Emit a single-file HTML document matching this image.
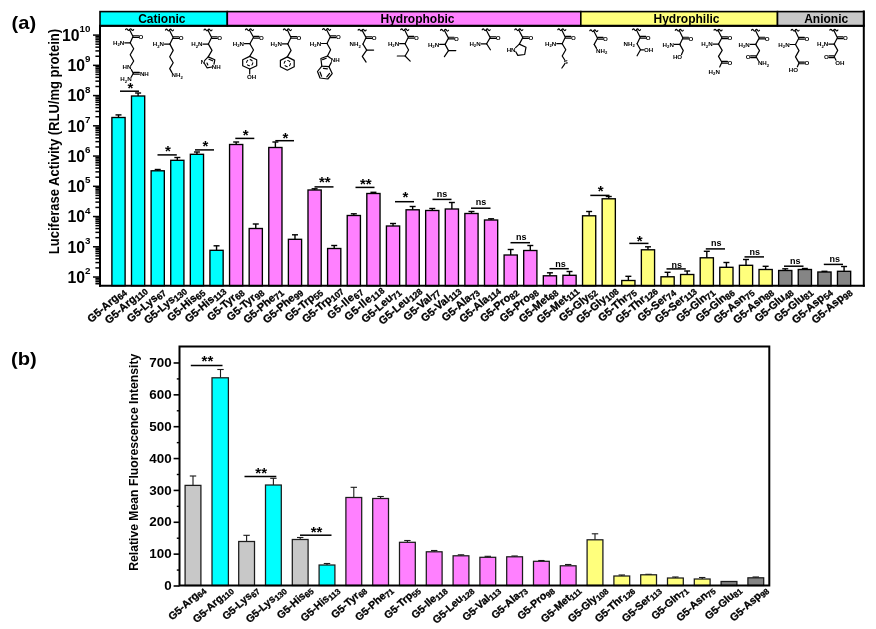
<!DOCTYPE html>
<html lang="en">
<head>
<meta charset="utf-8">
<title>Figure</title>
<style>
html,body{margin:0;padding:0;background:#fff;}
svg{display:block;will-change:transform;}
svg text.xl{stroke:#000;stroke-width:0.3px;}
svg text{font-family:"Liberation Sans",sans-serif;font-weight:bold;fill:#000;}
</style>
</head>
<body>
<svg width="876" height="629" viewBox="0 0 876 629">
<defs><filter id="soft" x="0" y="0" width="876" height="629" filterUnits="userSpaceOnUse"><feGaussianBlur stdDeviation="0.3"/></filter></defs>
<rect x="0" y="0" width="876" height="629" fill="#fff"/>
<g filter="url(#soft)">
<g stroke="#000" fill="none">
<rect x="100" y="11.6" width="127.3" height="14.4" fill="#00FFFF" stroke-width="1.6"/>
<rect x="227.3" y="11.6" width="353.5" height="14.4" fill="#FF80FF" stroke-width="1.6"/>
<rect x="580.8" y="11.6" width="196.7" height="14.4" fill="#FFFF7C" stroke-width="1.6"/>
<rect x="777.5" y="11.6" width="86.3" height="14.4" fill="#C8C8C8" stroke-width="1.6"/>
</g>
<text x="161.8" y="23" font-size="12" text-anchor="middle">Cationic</text>
<text x="417.5" y="23" font-size="12" text-anchor="middle">Hydrophobic</text>
<text x="686.5" y="23" font-size="12" text-anchor="middle">Hydrophilic</text>
<text x="826.2" y="23.2" font-size="12" text-anchor="middle">Anionic</text>
<g stroke="#000" stroke-width="1.5">
<line x1="118.5" y1="117.5" x2="118.5" y2="114.9" stroke-width="1.4"/>
<line x1="115.5" y1="114.9" x2="121.5" y2="114.9" stroke-width="1.4"/>
<rect x="111.9" y="117.5" width="13.2" height="168.3" fill="#00FFFF" stroke-width="1.35"/>
<line x1="138.11" y1="96" x2="138.11" y2="93" stroke-width="1.4"/>
<line x1="135.11" y1="93" x2="141.11" y2="93" stroke-width="1.4"/>
<rect x="131.51" y="96" width="13.2" height="189.8" fill="#00FFFF" stroke-width="1.35"/>
<line x1="157.72" y1="170.8" x2="157.72" y2="169.5" stroke-width="1.4"/>
<line x1="154.72" y1="169.5" x2="160.72" y2="169.5" stroke-width="1.4"/>
<rect x="151.12" y="170.8" width="13.2" height="115" fill="#00FFFF" stroke-width="1.35"/>
<line x1="177.33" y1="160.3" x2="177.33" y2="157.5" stroke-width="1.4"/>
<line x1="174.33" y1="157.5" x2="180.33" y2="157.5" stroke-width="1.4"/>
<rect x="170.73" y="160.3" width="13.2" height="125.5" fill="#00FFFF" stroke-width="1.35"/>
<line x1="196.94" y1="154.3" x2="196.94" y2="152" stroke-width="1.4"/>
<line x1="193.94" y1="152" x2="199.94" y2="152" stroke-width="1.4"/>
<rect x="190.34" y="154.3" width="13.2" height="131.5" fill="#00FFFF" stroke-width="1.35"/>
<line x1="216.55" y1="250.3" x2="216.55" y2="245.8" stroke-width="1.4"/>
<line x1="213.55" y1="245.8" x2="219.55" y2="245.8" stroke-width="1.4"/>
<rect x="209.95" y="250.3" width="13.2" height="35.5" fill="#00FFFF" stroke-width="1.35"/>
<line x1="236.16" y1="144.5" x2="236.16" y2="142" stroke-width="1.4"/>
<line x1="233.16" y1="142" x2="239.16" y2="142" stroke-width="1.4"/>
<rect x="229.56" y="144.5" width="13.2" height="141.3" fill="#FF80FF" stroke-width="1.35"/>
<line x1="255.77" y1="228.5" x2="255.77" y2="224" stroke-width="1.4"/>
<line x1="252.77" y1="224" x2="258.77" y2="224" stroke-width="1.4"/>
<rect x="249.17" y="228.5" width="13.2" height="57.3" fill="#FF80FF" stroke-width="1.35"/>
<line x1="275.38" y1="147.5" x2="275.38" y2="142" stroke-width="1.4"/>
<line x1="272.38" y1="142" x2="278.38" y2="142" stroke-width="1.4"/>
<rect x="268.78" y="147.5" width="13.2" height="138.3" fill="#FF80FF" stroke-width="1.35"/>
<line x1="294.99" y1="239.3" x2="294.99" y2="234.8" stroke-width="1.4"/>
<line x1="291.99" y1="234.8" x2="297.99" y2="234.8" stroke-width="1.4"/>
<rect x="288.39" y="239.3" width="13.2" height="46.5" fill="#FF80FF" stroke-width="1.35"/>
<line x1="314.6" y1="190" x2="314.6" y2="188.8" stroke-width="1.4"/>
<line x1="311.6" y1="188.8" x2="317.6" y2="188.8" stroke-width="1.4"/>
<rect x="308" y="190" width="13.2" height="95.8" fill="#FF80FF" stroke-width="1.35"/>
<line x1="334.21" y1="248.5" x2="334.21" y2="245.5" stroke-width="1.4"/>
<line x1="331.21" y1="245.5" x2="337.21" y2="245.5" stroke-width="1.4"/>
<rect x="327.61" y="248.5" width="13.2" height="37.3" fill="#FF80FF" stroke-width="1.35"/>
<line x1="353.82" y1="215.5" x2="353.82" y2="213.8" stroke-width="1.4"/>
<line x1="350.82" y1="213.8" x2="356.82" y2="213.8" stroke-width="1.4"/>
<rect x="347.22" y="215.5" width="13.2" height="70.3" fill="#FF80FF" stroke-width="1.35"/>
<line x1="373.43" y1="193.5" x2="373.43" y2="192.3" stroke-width="1.4"/>
<line x1="370.43" y1="192.3" x2="376.43" y2="192.3" stroke-width="1.4"/>
<rect x="366.83" y="193.5" width="13.2" height="92.3" fill="#FF80FF" stroke-width="1.35"/>
<line x1="393.04" y1="226" x2="393.04" y2="223.5" stroke-width="1.4"/>
<line x1="390.04" y1="223.5" x2="396.04" y2="223.5" stroke-width="1.4"/>
<rect x="386.44" y="226" width="13.2" height="59.8" fill="#FF80FF" stroke-width="1.35"/>
<line x1="412.65" y1="209.8" x2="412.65" y2="206.5" stroke-width="1.4"/>
<line x1="409.65" y1="206.5" x2="415.65" y2="206.5" stroke-width="1.4"/>
<rect x="406.05" y="209.8" width="13.2" height="76" fill="#FF80FF" stroke-width="1.35"/>
<line x1="432.26" y1="210.5" x2="432.26" y2="208.5" stroke-width="1.4"/>
<line x1="429.26" y1="208.5" x2="435.26" y2="208.5" stroke-width="1.4"/>
<rect x="425.66" y="210.5" width="13.2" height="75.3" fill="#FF80FF" stroke-width="1.35"/>
<line x1="451.87" y1="209" x2="451.87" y2="202.5" stroke-width="1.4"/>
<line x1="448.87" y1="202.5" x2="454.87" y2="202.5" stroke-width="1.4"/>
<rect x="445.27" y="209" width="13.2" height="76.8" fill="#FF80FF" stroke-width="1.35"/>
<line x1="471.48" y1="213.5" x2="471.48" y2="211.5" stroke-width="1.4"/>
<line x1="468.48" y1="211.5" x2="474.48" y2="211.5" stroke-width="1.4"/>
<rect x="464.88" y="213.5" width="13.2" height="72.3" fill="#FF80FF" stroke-width="1.35"/>
<line x1="491.09" y1="220" x2="491.09" y2="218.8" stroke-width="1.4"/>
<line x1="488.09" y1="218.8" x2="494.09" y2="218.8" stroke-width="1.4"/>
<rect x="484.49" y="220" width="13.2" height="65.8" fill="#FF80FF" stroke-width="1.35"/>
<line x1="510.7" y1="255" x2="510.7" y2="249.5" stroke-width="1.4"/>
<line x1="507.7" y1="249.5" x2="513.7" y2="249.5" stroke-width="1.4"/>
<rect x="504.1" y="255" width="13.2" height="30.8" fill="#FF80FF" stroke-width="1.35"/>
<line x1="530.31" y1="250.5" x2="530.31" y2="245.5" stroke-width="1.4"/>
<line x1="527.31" y1="245.5" x2="533.31" y2="245.5" stroke-width="1.4"/>
<rect x="523.71" y="250.5" width="13.2" height="35.3" fill="#FF80FF" stroke-width="1.35"/>
<line x1="549.92" y1="275.8" x2="549.92" y2="272.8" stroke-width="1.4"/>
<line x1="546.92" y1="272.8" x2="552.92" y2="272.8" stroke-width="1.4"/>
<rect x="543.32" y="275.8" width="13.2" height="10" fill="#FF80FF" stroke-width="1.35"/>
<line x1="569.53" y1="275.3" x2="569.53" y2="271.5" stroke-width="1.4"/>
<line x1="566.53" y1="271.5" x2="572.53" y2="271.5" stroke-width="1.4"/>
<rect x="562.93" y="275.3" width="13.2" height="10.5" fill="#FF80FF" stroke-width="1.35"/>
<line x1="589.14" y1="215.8" x2="589.14" y2="211.5" stroke-width="1.4"/>
<line x1="586.14" y1="211.5" x2="592.14" y2="211.5" stroke-width="1.4"/>
<rect x="582.54" y="215.8" width="13.2" height="70" fill="#FFFF7C" stroke-width="1.35"/>
<line x1="608.75" y1="198.8" x2="608.75" y2="196.5" stroke-width="1.4"/>
<line x1="605.75" y1="196.5" x2="611.75" y2="196.5" stroke-width="1.4"/>
<rect x="602.15" y="198.8" width="13.2" height="87" fill="#FFFF7C" stroke-width="1.35"/>
<line x1="628.36" y1="280.5" x2="628.36" y2="276.3" stroke-width="1.4"/>
<line x1="625.36" y1="276.3" x2="631.36" y2="276.3" stroke-width="1.4"/>
<rect x="621.76" y="280.5" width="13.2" height="5.3" fill="#FFFF7C" stroke-width="1.35"/>
<line x1="647.97" y1="249.8" x2="647.97" y2="246.8" stroke-width="1.4"/>
<line x1="644.97" y1="246.8" x2="650.97" y2="246.8" stroke-width="1.4"/>
<rect x="641.37" y="249.8" width="13.2" height="36" fill="#FFFF7C" stroke-width="1.35"/>
<line x1="667.58" y1="276.8" x2="667.58" y2="272.3" stroke-width="1.4"/>
<line x1="664.58" y1="272.3" x2="670.58" y2="272.3" stroke-width="1.4"/>
<rect x="660.98" y="276.8" width="13.2" height="9" fill="#FFFF7C" stroke-width="1.35"/>
<line x1="687.19" y1="274.5" x2="687.19" y2="271" stroke-width="1.4"/>
<line x1="684.19" y1="271" x2="690.19" y2="271" stroke-width="1.4"/>
<rect x="680.59" y="274.5" width="13.2" height="11.3" fill="#FFFF7C" stroke-width="1.35"/>
<line x1="706.8" y1="257.8" x2="706.8" y2="251.3" stroke-width="1.4"/>
<line x1="703.8" y1="251.3" x2="709.8" y2="251.3" stroke-width="1.4"/>
<rect x="700.2" y="257.8" width="13.2" height="28" fill="#FFFF7C" stroke-width="1.35"/>
<line x1="726.41" y1="267.3" x2="726.41" y2="262.5" stroke-width="1.4"/>
<line x1="723.41" y1="262.5" x2="729.41" y2="262.5" stroke-width="1.4"/>
<rect x="719.81" y="267.3" width="13.2" height="18.5" fill="#FFFF7C" stroke-width="1.35"/>
<line x1="746.02" y1="265.3" x2="746.02" y2="259.5" stroke-width="1.4"/>
<line x1="743.02" y1="259.5" x2="749.02" y2="259.5" stroke-width="1.4"/>
<rect x="739.42" y="265.3" width="13.2" height="20.5" fill="#FFFF7C" stroke-width="1.35"/>
<line x1="765.63" y1="269.5" x2="765.63" y2="266.3" stroke-width="1.4"/>
<line x1="762.63" y1="266.3" x2="768.63" y2="266.3" stroke-width="1.4"/>
<rect x="759.03" y="269.5" width="13.2" height="16.3" fill="#FFFF7C" stroke-width="1.35"/>
<line x1="785.24" y1="270.5" x2="785.24" y2="268.8" stroke-width="1.4"/>
<line x1="782.24" y1="268.8" x2="788.24" y2="268.8" stroke-width="1.4"/>
<rect x="778.64" y="270.5" width="13.2" height="15.3" fill="#858585" stroke-width="1.35"/>
<line x1="804.85" y1="269.5" x2="804.85" y2="268.5" stroke-width="1.4"/>
<line x1="801.85" y1="268.5" x2="807.85" y2="268.5" stroke-width="1.4"/>
<rect x="798.25" y="269.5" width="13.2" height="16.3" fill="#858585" stroke-width="1.35"/>
<line x1="824.46" y1="272" x2="824.46" y2="271.3" stroke-width="1.4"/>
<line x1="821.46" y1="271.3" x2="827.46" y2="271.3" stroke-width="1.4"/>
<rect x="817.86" y="272" width="13.2" height="13.8" fill="#858585" stroke-width="1.35"/>
<line x1="844.07" y1="271.3" x2="844.07" y2="266.5" stroke-width="1.4"/>
<line x1="841.07" y1="266.5" x2="847.07" y2="266.5" stroke-width="1.4"/>
<rect x="837.47" y="271.3" width="13.2" height="14.5" fill="#858585" stroke-width="1.35"/>
</g>
<g stroke="#000" stroke-width="2" fill="none" stroke-linecap="square">
<line x1="100" y1="26" x2="100" y2="285.8" stroke-width="2"/>
<line x1="100" y1="285.8" x2="863.8" y2="285.8" stroke-width="2"/>
<line x1="863.8" y1="11.6" x2="863.8" y2="285.8" stroke-width="2"/>
<line x1="100" y1="25.8" x2="863.8" y2="25.8" stroke-width="2"/>
</g>
<g stroke="#000" stroke-width="1.7">
<line x1="95.4" y1="283.73" x2="100" y2="283.73" stroke-width="1.5"/>
<line x1="95.4" y1="281.7" x2="100" y2="281.7" stroke-width="1.5"/>
<line x1="95.4" y1="279.95" x2="100" y2="279.95" stroke-width="1.5"/>
<line x1="95.4" y1="278.4" x2="100" y2="278.4" stroke-width="1.5"/>
<line x1="93" y1="277.02" x2="100" y2="277.02" stroke-width="1.5"/>
<line x1="95.4" y1="267.92" x2="100" y2="267.92" stroke-width="1.5"/>
<line x1="95.4" y1="262.59" x2="100" y2="262.59" stroke-width="1.5"/>
<line x1="95.4" y1="258.81" x2="100" y2="258.81" stroke-width="1.5"/>
<line x1="95.4" y1="255.88" x2="100" y2="255.88" stroke-width="1.5"/>
<line x1="95.4" y1="253.49" x2="100" y2="253.49" stroke-width="1.5"/>
<line x1="95.4" y1="251.46" x2="100" y2="251.46" stroke-width="1.5"/>
<line x1="95.4" y1="249.71" x2="100" y2="249.71" stroke-width="1.5"/>
<line x1="95.4" y1="248.16" x2="100" y2="248.16" stroke-width="1.5"/>
<line x1="93" y1="246.78" x2="100" y2="246.78" stroke-width="1.5"/>
<line x1="95.4" y1="237.68" x2="100" y2="237.68" stroke-width="1.5"/>
<line x1="95.4" y1="232.35" x2="100" y2="232.35" stroke-width="1.5"/>
<line x1="95.4" y1="228.57" x2="100" y2="228.57" stroke-width="1.5"/>
<line x1="95.4" y1="225.64" x2="100" y2="225.64" stroke-width="1.5"/>
<line x1="95.4" y1="223.25" x2="100" y2="223.25" stroke-width="1.5"/>
<line x1="95.4" y1="221.22" x2="100" y2="221.22" stroke-width="1.5"/>
<line x1="95.4" y1="219.47" x2="100" y2="219.47" stroke-width="1.5"/>
<line x1="95.4" y1="217.92" x2="100" y2="217.92" stroke-width="1.5"/>
<line x1="93" y1="216.54" x2="100" y2="216.54" stroke-width="1.5"/>
<line x1="95.4" y1="207.44" x2="100" y2="207.44" stroke-width="1.5"/>
<line x1="95.4" y1="202.11" x2="100" y2="202.11" stroke-width="1.5"/>
<line x1="95.4" y1="198.33" x2="100" y2="198.33" stroke-width="1.5"/>
<line x1="95.4" y1="195.4" x2="100" y2="195.4" stroke-width="1.5"/>
<line x1="95.4" y1="193.01" x2="100" y2="193.01" stroke-width="1.5"/>
<line x1="95.4" y1="190.98" x2="100" y2="190.98" stroke-width="1.5"/>
<line x1="95.4" y1="189.23" x2="100" y2="189.23" stroke-width="1.5"/>
<line x1="95.4" y1="187.68" x2="100" y2="187.68" stroke-width="1.5"/>
<line x1="93" y1="186.3" x2="100" y2="186.3" stroke-width="1.5"/>
<line x1="95.4" y1="177.2" x2="100" y2="177.2" stroke-width="1.5"/>
<line x1="95.4" y1="171.87" x2="100" y2="171.87" stroke-width="1.5"/>
<line x1="95.4" y1="168.09" x2="100" y2="168.09" stroke-width="1.5"/>
<line x1="95.4" y1="165.16" x2="100" y2="165.16" stroke-width="1.5"/>
<line x1="95.4" y1="162.77" x2="100" y2="162.77" stroke-width="1.5"/>
<line x1="95.4" y1="160.74" x2="100" y2="160.74" stroke-width="1.5"/>
<line x1="95.4" y1="158.99" x2="100" y2="158.99" stroke-width="1.5"/>
<line x1="95.4" y1="157.44" x2="100" y2="157.44" stroke-width="1.5"/>
<line x1="93" y1="156.06" x2="100" y2="156.06" stroke-width="1.5"/>
<line x1="95.4" y1="146.96" x2="100" y2="146.96" stroke-width="1.5"/>
<line x1="95.4" y1="141.63" x2="100" y2="141.63" stroke-width="1.5"/>
<line x1="95.4" y1="137.85" x2="100" y2="137.85" stroke-width="1.5"/>
<line x1="95.4" y1="134.92" x2="100" y2="134.92" stroke-width="1.5"/>
<line x1="95.4" y1="132.53" x2="100" y2="132.53" stroke-width="1.5"/>
<line x1="95.4" y1="130.5" x2="100" y2="130.5" stroke-width="1.5"/>
<line x1="95.4" y1="128.75" x2="100" y2="128.75" stroke-width="1.5"/>
<line x1="95.4" y1="127.2" x2="100" y2="127.2" stroke-width="1.5"/>
<line x1="93" y1="125.82" x2="100" y2="125.82" stroke-width="1.5"/>
<line x1="95.4" y1="116.72" x2="100" y2="116.72" stroke-width="1.5"/>
<line x1="95.4" y1="111.39" x2="100" y2="111.39" stroke-width="1.5"/>
<line x1="95.4" y1="107.61" x2="100" y2="107.61" stroke-width="1.5"/>
<line x1="95.4" y1="104.68" x2="100" y2="104.68" stroke-width="1.5"/>
<line x1="95.4" y1="102.29" x2="100" y2="102.29" stroke-width="1.5"/>
<line x1="95.4" y1="100.26" x2="100" y2="100.26" stroke-width="1.5"/>
<line x1="95.4" y1="98.51" x2="100" y2="98.51" stroke-width="1.5"/>
<line x1="95.4" y1="96.96" x2="100" y2="96.96" stroke-width="1.5"/>
<line x1="93" y1="95.58" x2="100" y2="95.58" stroke-width="1.5"/>
<line x1="95.4" y1="86.48" x2="100" y2="86.48" stroke-width="1.5"/>
<line x1="95.4" y1="81.15" x2="100" y2="81.15" stroke-width="1.5"/>
<line x1="95.4" y1="77.37" x2="100" y2="77.37" stroke-width="1.5"/>
<line x1="95.4" y1="74.44" x2="100" y2="74.44" stroke-width="1.5"/>
<line x1="95.4" y1="72.05" x2="100" y2="72.05" stroke-width="1.5"/>
<line x1="95.4" y1="70.02" x2="100" y2="70.02" stroke-width="1.5"/>
<line x1="95.4" y1="68.27" x2="100" y2="68.27" stroke-width="1.5"/>
<line x1="95.4" y1="66.72" x2="100" y2="66.72" stroke-width="1.5"/>
<line x1="93" y1="65.34" x2="100" y2="65.34" stroke-width="1.5"/>
<line x1="95.4" y1="56.24" x2="100" y2="56.24" stroke-width="1.5"/>
<line x1="95.4" y1="50.91" x2="100" y2="50.91" stroke-width="1.5"/>
<line x1="95.4" y1="47.13" x2="100" y2="47.13" stroke-width="1.5"/>
<line x1="95.4" y1="44.2" x2="100" y2="44.2" stroke-width="1.5"/>
<line x1="95.4" y1="41.81" x2="100" y2="41.81" stroke-width="1.5"/>
<line x1="95.4" y1="39.78" x2="100" y2="39.78" stroke-width="1.5"/>
<line x1="95.4" y1="38.03" x2="100" y2="38.03" stroke-width="1.5"/>
<line x1="95.4" y1="36.48" x2="100" y2="36.48" stroke-width="1.5"/>
<line x1="93" y1="35.1" x2="100" y2="35.1" stroke-width="1.5"/>
</g>
<text x="90.5" y="282.82" font-size="15.8" text-anchor="end">10<tspan font-size="9.8" dy="-8.8">2</tspan></text>
<text x="90.5" y="252.58" font-size="15.8" text-anchor="end">10<tspan font-size="9.8" dy="-8.8">3</tspan></text>
<text x="90.5" y="222.34" font-size="15.8" text-anchor="end">10<tspan font-size="9.8" dy="-8.8">4</tspan></text>
<text x="90.5" y="192.1" font-size="15.8" text-anchor="end">10<tspan font-size="9.8" dy="-8.8">5</tspan></text>
<text x="90.5" y="161.86" font-size="15.8" text-anchor="end">10<tspan font-size="9.8" dy="-8.8">6</tspan></text>
<text x="90.5" y="131.62" font-size="15.8" text-anchor="end">10<tspan font-size="9.8" dy="-8.8">7</tspan></text>
<text x="90.5" y="101.38" font-size="15.8" text-anchor="end">10<tspan font-size="9.8" dy="-8.8">8</tspan></text>
<text x="90.5" y="71.14" font-size="15.8" text-anchor="end">10<tspan font-size="9.8" dy="-8.8">9</tspan></text>
<text x="90.5" y="40.9" font-size="15.8" text-anchor="end">10<tspan font-size="9.8" dy="-8.8">10</tspan></text>
<text transform="translate(59.0 141.55) rotate(-90) scale(0.905 1)" font-size="14.4" text-anchor="middle">Luciferase Activity (RLU/mg protein)</text>
<text transform="translate(11.6 28.6) scale(1.09 1)" font-size="18.4">(a)</text>
<line x1="120" y1="91.2" x2="139" y2="91.2" stroke="#000" stroke-width="1.5"/>
<text x="130.3" y="92.65" font-size="15" text-anchor="middle">*</text>
<line x1="157.5" y1="154.9" x2="176.8" y2="154.9" stroke="#000" stroke-width="1.5"/>
<text x="167.95" y="156.15" font-size="15" text-anchor="middle">*</text>
<line x1="195" y1="149.9" x2="214" y2="149.9" stroke="#000" stroke-width="1.5"/>
<text x="205.3" y="151.15" font-size="15" text-anchor="middle">*</text>
<line x1="235.3" y1="138.4" x2="254.3" y2="138.4" stroke="#000" stroke-width="1.5"/>
<text x="245.6" y="140.45" font-size="15" text-anchor="middle">*</text>
<line x1="275.3" y1="140.7" x2="294" y2="140.7" stroke="#000" stroke-width="1.5"/>
<text x="285.45" y="142.65" font-size="15" text-anchor="middle">*</text>
<line x1="314.5" y1="186.9" x2="333.5" y2="186.9" stroke="#000" stroke-width="1.5"/>
<text x="324.8" y="187.45" font-size="15" text-anchor="middle">**</text>
<line x1="355.5" y1="187.4" x2="374.5" y2="187.4" stroke="#000" stroke-width="1.5"/>
<text x="365.8" y="188.65" font-size="15" text-anchor="middle">**</text>
<line x1="395" y1="201.7" x2="414" y2="201.7" stroke="#000" stroke-width="1.5"/>
<text x="405.3" y="201.95" font-size="15" text-anchor="middle">*</text>
<line x1="432.5" y1="199.4" x2="451.5" y2="199.4" stroke="#000" stroke-width="1.5"/>
<text x="442" y="197" font-size="9" text-anchor="middle">ns</text>
<line x1="471" y1="208.2" x2="490.5" y2="208.2" stroke="#000" stroke-width="1.5"/>
<text x="480.95" y="205.3" font-size="9" text-anchor="middle">ns</text>
<line x1="510.5" y1="242.7" x2="530" y2="242.7" stroke="#000" stroke-width="1.5"/>
<text x="521.25" y="240" font-size="9" text-anchor="middle">ns</text>
<line x1="549.5" y1="268.7" x2="568.8" y2="268.7" stroke="#000" stroke-width="1.5"/>
<text x="560.55" y="267" font-size="9" text-anchor="middle">ns</text>
<line x1="590.3" y1="195.4" x2="609.5" y2="195.4" stroke="#000" stroke-width="1.5"/>
<text x="600.7" y="195.65" font-size="15" text-anchor="middle">*</text>
<line x1="629.3" y1="243.4" x2="648.5" y2="243.4" stroke="#000" stroke-width="1.5"/>
<text x="639.7" y="245.95" font-size="15" text-anchor="middle">*</text>
<line x1="666.5" y1="268.9" x2="685.8" y2="268.9" stroke="#000" stroke-width="1.5"/>
<text x="676.65" y="267.5" font-size="9" text-anchor="middle">ns</text>
<line x1="705.8" y1="248.9" x2="725" y2="248.9" stroke="#000" stroke-width="1.5"/>
<text x="716.3" y="245.8" font-size="9" text-anchor="middle">ns</text>
<line x1="744.5" y1="256.9" x2="764" y2="256.9" stroke="#000" stroke-width="1.5"/>
<text x="754.65" y="254.5" font-size="9" text-anchor="middle">ns</text>
<line x1="784" y1="266.2" x2="803.5" y2="266.2" stroke="#000" stroke-width="1.5"/>
<text x="795.15" y="264" font-size="9" text-anchor="middle">ns</text>
<line x1="823.8" y1="264.4" x2="843" y2="264.4" stroke="#000" stroke-width="1.5"/>
<text x="834.8" y="262.3" font-size="9" text-anchor="middle">ns</text>
<text transform="translate(126.5 292.5) rotate(-41)" font-size="10.9" text-anchor="end" class="xl">G5-Arg<tspan font-size="8.8" dy="2">64</tspan></text>
<text transform="translate(147.41 290.9) rotate(-41)" font-size="10.9" text-anchor="end" class="xl">G5-Arg<tspan font-size="8.8" dy="2">110</tspan></text>
<text transform="translate(165.72 292.5) rotate(-41)" font-size="10.9" text-anchor="end" class="xl">G5-Lys<tspan font-size="8.8" dy="2">67</tspan></text>
<text transform="translate(186.63 290.9) rotate(-41)" font-size="10.9" text-anchor="end" class="xl">G5-Lys<tspan font-size="8.8" dy="2">130</tspan></text>
<text transform="translate(204.94 292.5) rotate(-41)" font-size="10.9" text-anchor="end" class="xl">G5-His<tspan font-size="8.8" dy="2">65</tspan></text>
<text transform="translate(225.85 290.9) rotate(-41)" font-size="10.9" text-anchor="end" class="xl">G5-His<tspan font-size="8.8" dy="2">113</tspan></text>
<text transform="translate(244.16 292.5) rotate(-41)" font-size="10.9" text-anchor="end" class="xl">G5-Tyr<tspan font-size="8.8" dy="2">68</tspan></text>
<text transform="translate(263.77 292.5) rotate(-41)" font-size="10.9" text-anchor="end" class="xl">G5-Tyr<tspan font-size="8.8" dy="2">98</tspan></text>
<text transform="translate(283.38 292.5) rotate(-41)" font-size="10.9" text-anchor="end" class="xl">G5-Phe<tspan font-size="8.8" dy="2">71</tspan></text>
<text transform="translate(302.99 292.5) rotate(-41)" font-size="10.9" text-anchor="end" class="xl">G5-Phe<tspan font-size="8.8" dy="2">99</tspan></text>
<text transform="translate(322.6 292.5) rotate(-41)" font-size="10.9" text-anchor="end" class="xl">G5-Trp<tspan font-size="8.8" dy="2">55</tspan></text>
<text transform="translate(343.51 290.9) rotate(-41)" font-size="10.9" text-anchor="end" class="xl">G5-Trp<tspan font-size="8.8" dy="2">107</tspan></text>
<text transform="translate(363.32 291.5) rotate(-41)" font-size="10.9" text-anchor="end" class="xl" letter-spacing="0.35">G5-Ile<tspan font-size="8.8" dy="2">67</tspan></text>
<text transform="translate(384.23 289.9) rotate(-41)" font-size="10.9" text-anchor="end" class="xl" letter-spacing="0.35">G5-Ile<tspan font-size="8.8" dy="2">118</tspan></text>
<text transform="translate(401.04 292.5) rotate(-41)" font-size="10.9" text-anchor="end" class="xl">G5-Leu<tspan font-size="8.8" dy="2">71</tspan></text>
<text transform="translate(421.95 290.9) rotate(-41)" font-size="10.9" text-anchor="end" class="xl">G5-Leu<tspan font-size="8.8" dy="2">128</tspan></text>
<text transform="translate(440.26 292.5) rotate(-41)" font-size="10.9" text-anchor="end" class="xl">G5-Val<tspan font-size="8.8" dy="2">77</tspan></text>
<text transform="translate(461.17 290.9) rotate(-41)" font-size="10.9" text-anchor="end" class="xl">G5-Val<tspan font-size="8.8" dy="2">113</tspan></text>
<text transform="translate(479.48 292.5) rotate(-41)" font-size="10.9" text-anchor="end" class="xl">G5-Ala<tspan font-size="8.8" dy="2">73</tspan></text>
<text transform="translate(500.39 290.9) rotate(-41)" font-size="10.9" text-anchor="end" class="xl">G5-Ala<tspan font-size="8.8" dy="2">114</tspan></text>
<text transform="translate(518.7 292.5) rotate(-41)" font-size="10.9" text-anchor="end" class="xl">G5-Pro<tspan font-size="8.8" dy="2">82</tspan></text>
<text transform="translate(538.31 292.5) rotate(-41)" font-size="10.9" text-anchor="end" class="xl">G5-Pro<tspan font-size="8.8" dy="2">98</tspan></text>
<text transform="translate(557.92 292.5) rotate(-41)" font-size="10.9" text-anchor="end" class="xl">G5-Met<tspan font-size="8.8" dy="2">68</tspan></text>
<text transform="translate(578.83 290.9) rotate(-41)" font-size="10.9" text-anchor="end" class="xl">G5-Met<tspan font-size="8.8" dy="2">111</tspan></text>
<text transform="translate(597.14 292.5) rotate(-41)" font-size="10.9" text-anchor="end" class="xl">G5-Gly<tspan font-size="8.8" dy="2">52</tspan></text>
<text transform="translate(618.05 290.9) rotate(-41)" font-size="10.9" text-anchor="end" class="xl">G5-Gly<tspan font-size="8.8" dy="2">108</tspan></text>
<text transform="translate(636.36 292.5) rotate(-41)" font-size="10.9" text-anchor="end" class="xl">G5-Thr<tspan font-size="8.8" dy="2">75</tspan></text>
<text transform="translate(657.27 290.9) rotate(-41)" font-size="10.9" text-anchor="end" class="xl">G5-Thr<tspan font-size="8.8" dy="2">126</tspan></text>
<text transform="translate(675.58 292.5) rotate(-41)" font-size="10.9" text-anchor="end" class="xl">G5-Ser<tspan font-size="8.8" dy="2">74</tspan></text>
<text transform="translate(696.49 290.9) rotate(-41)" font-size="10.9" text-anchor="end" class="xl">G5-Ser<tspan font-size="8.8" dy="2">113</tspan></text>
<text transform="translate(714.8 292.5) rotate(-41)" font-size="10.9" text-anchor="end" class="xl">G5-Gln<tspan font-size="8.8" dy="2">71</tspan></text>
<text transform="translate(734.41 292.5) rotate(-41)" font-size="10.9" text-anchor="end" class="xl">G5-Gln<tspan font-size="8.8" dy="2">86</tspan></text>
<text transform="translate(754.02 292.5) rotate(-41)" font-size="10.9" text-anchor="end" class="xl">G5-Asn<tspan font-size="8.8" dy="2">75</tspan></text>
<text transform="translate(773.63 292.5) rotate(-41)" font-size="10.9" text-anchor="end" class="xl">G5-Asn<tspan font-size="8.8" dy="2">88</tspan></text>
<text transform="translate(793.24 292.5) rotate(-41)" font-size="10.9" text-anchor="end" class="xl">G5-Glu<tspan font-size="8.8" dy="2">48</tspan></text>
<text transform="translate(812.85 292.5) rotate(-41)" font-size="10.9" text-anchor="end" class="xl">G5-Glu<tspan font-size="8.8" dy="2">81</tspan></text>
<text transform="translate(832.46 292.5) rotate(-41)" font-size="10.9" text-anchor="end" class="xl">G5-Asp<tspan font-size="8.8" dy="2">54</tspan></text>
<text transform="translate(852.07 292.5) rotate(-41)" font-size="10.9" text-anchor="end" class="xl">G5-Asp<tspan font-size="8.8" dy="2">98</tspan></text>
<g stroke="#000" stroke-width="1.2" fill="none" stroke-linecap="round" stroke-linejoin="round">
<path d="M125.6 29.6 q1 -1.7 2 0 t2 0 t2 0 t2 0" stroke-width="1.2"/>
<path d="M129.6 29.8 L133 36.6 L130.2 42.8"/>
<path d="M133.2 37.45 L138.6 37.45"/>
<path d="M133.2 35.75 L138.6 35.75"/>
<path d="M130.2 42.8 L124.8 42.8"/>
<path d="M130.2 42.8 L133.7 48.7 L130.2 54.8 L133.7 61 L131.3 65"/>
<path d="M131.3 69.6 L133.3 73.2"/>
<path d="M133.5 74.05 L139.4 74.05"/>
<path d="M133.5 72.35 L139.4 72.35"/>
<path d="M133.3 73.2 L131.3 77"/>
<path d="M165.5 30 q1 -1.7 2 0 t2 0 t2 0 t2 0" stroke-width="1.2"/>
<path d="M169.5 30.2 L173.1 37.6 L169.9 44.1"/>
<path d="M173.3 38.45 L178.7 38.45"/>
<path d="M173.3 36.75 L178.7 36.75"/>
<path d="M169.9 44.1 L164.5 44.1"/>
<path d="M169.9 44.1 L173.2 50.4 L169.7 56.7 L173.2 62.7 L169.7 68.6 L172 72.6"/>
<path d="M204 30 q1 -1.7 2 0 t2 0 t2 0 t2 0" stroke-width="1.2"/>
<path d="M208 30.2 L211.6 37.6 L208.4 44.1"/>
<path d="M211.8 38.45 L217.2 38.45"/>
<path d="M211.8 36.75 L217.2 36.75"/>
<path d="M208.4 44.1 L203 44.1"/>
<path d="M208.4 44.1 L212 50.4 L208.2 56.9"/>
<path d="M205 60.2 L208.2 56.9 L214.8 59.8 L214 64.2"/>
<path d="M212 67 L207 67.8 L204.6 63.8"/>
<path d="M209 59.2 L212.6 60.8"/>
<path d="M207 63 L207.8 65"/>
<path d="M245.5 29.8 q1 -1.7 2 0 t2 0 t2 0 t2 0" stroke-width="1.2"/>
<path d="M249.5 30 L253.5 37.2 L249.9 43.7"/>
<path d="M253.7 38.05 L259.1 38.05"/>
<path d="M253.7 36.35 L259.1 36.35"/>
<path d="M249.9 43.7 L244.5 43.7"/>
<path d="M249.9 43.7 L253.5 50 L249.7 56.4"/>
<path d="M249.7 56.4 L256.7 59.68 L256.7 65.72 L249.7 69 L242.7 65.72 L242.7 59.68 Z"/>
<circle cx="249.7" cy="62.7" r="3.1" stroke-dasharray="2.3 2.6" stroke-width="1.05"/>
<path d="M249.7 69 L249.7 74"/>
<path d="M283.4 29.8 q1 -1.7 2 0 t2 0 t2 0 t2 0" stroke-width="1.2"/>
<path d="M287.4 30 L291 37.4 L287.8 43.9"/>
<path d="M291.2 38.25 L296.6 38.25"/>
<path d="M291.2 36.55 L296.6 36.55"/>
<path d="M287.8 43.9 L282.4 43.9"/>
<path d="M287.8 43.9 L291.1 50.4 L287.3 56.9"/>
<path d="M287.3 56.9 L294.2 60.36 L294.2 66.74 L287.3 70.2 L280.4 66.74 L280.4 60.36 Z"/>
<circle cx="287.3" cy="63.55" r="3.1" stroke-dasharray="2.3 2.6" stroke-width="1.05"/>
<path d="M322.6 29.5 q1 -1.7 2 0 t2 0 t2 0 t2 0" stroke-width="1.2"/>
<path d="M326.6 29.7 L330.3 36.8 L327 43.5"/>
<path d="M330.5 37.65 L335.9 37.65"/>
<path d="M330.5 35.95 L335.9 35.95"/>
<path d="M327 43.5 L321.6 43.5"/>
<path d="M327 43.5 L330.6 49.8 L327.5 56"/>
<path d="M330.6 58.2 L327.5 56 L320.9 58.5 L321.8 66.1 L329 66.7 L331.2 62.6"/>
<path d="M321.8 66.1 L317.5 71.5 L320 78 L327.8 79 L332.2 73.6 L329 66.7"/>
<path d="M322.6 59.6 L326.2 58.2"/>
<path d="M320 72 L321.6 76.2"/>
<path d="M326.8 76.8 L329.6 73.4"/>
<path d="M323.4 68.4 L327.4 68.8"/>
<path d="M358.1 30.1 q1 -1.7 2 0 t2 0 t2 0 t2 0" stroke-width="1.2"/>
<path d="M362.1 30.3 L366.1 37.6 L363 44.1"/>
<path d="M366.3 38.45 L371.7 38.45"/>
<path d="M366.3 36.75 L371.7 36.75"/>
<path d="M363 44.1 L366.7 50.1 L373.6 50.1"/>
<path d="M366.7 50.1 L362.3 56.4 L366.1 62.1"/>
<path d="M400.7 29.7 q1 -1.7 2 0 t2 0 t2 0 t2 0" stroke-width="1.2"/>
<path d="M404.7 29.9 L408.3 37.2 L405.1 43.7"/>
<path d="M408.5 38.05 L413.9 38.05"/>
<path d="M408.5 36.35 L413.9 36.35"/>
<path d="M405.1 43.7 L399.7 43.7"/>
<path d="M405.1 43.7 L408.6 50 L405.1 56 L397.3 56"/>
<path d="M405.1 56 L410.2 61.1"/>
<path d="M440.5 30.3 q1 -1.7 2 0 t2 0 t2 0 t2 0" stroke-width="1.2"/>
<path d="M444.5 30.5 L448.5 38.1 L445.1 44.4"/>
<path d="M448.7 38.95 L454.1 38.95"/>
<path d="M448.7 37.25 L454.1 37.25"/>
<path d="M445.1 44.4 L439.7 44.4"/>
<path d="M445.1 44.4 L448.5 50.6 L455.8 50.6"/>
<path d="M448.5 50.6 L444.4 56.7"/>
<path d="M482.2 29.8 q1 -1.7 2 0 t2 0 t2 0 t2 0" stroke-width="1.2"/>
<path d="M486.2 30 L490.2 37.6 L486.6 43.8"/>
<path d="M490.4 38.45 L495.8 38.45"/>
<path d="M490.4 36.75 L495.8 36.75"/>
<path d="M486.6 43.8 L481.2 43.8"/>
<path d="M486.6 43.8 L490.4 49.8"/>
<path d="M514.8 29.8 q1 -1.7 2 0 t2 0 t2 0 t2 0" stroke-width="1.2"/>
<path d="M518.8 30 L522.8 37.6 L519.3 44.1"/>
<path d="M523 38.45 L528.4 38.45"/>
<path d="M523 36.75 L528.4 36.75"/>
<path d="M515.6 47.6 L519.3 44.1 L526 47.2 L524.7 54.5 L517.8 55.4 L515.8 51.8"/>
<path d="M557.8 29.7 q1 -1.7 2 0 t2 0 t2 0 t2 0" stroke-width="1.2"/>
<path d="M561.8 29.9 L565.3 37.2 L562.2 43.7"/>
<path d="M565.5 38.05 L570.9 38.05"/>
<path d="M565.5 36.35 L570.9 36.35"/>
<path d="M562.2 43.7 L556.8 43.7"/>
<path d="M562.2 43.7 L565.8 49.8 L562.2 56 L564.6 59.8"/>
<path d="M564.6 64.2 L561.9 68"/>
<path d="M589.8 30.7 q1 -1.7 2 0 t2 0 t2 0 t2 0" stroke-width="1.2"/>
<path d="M593.8 30.9 L597.5 38.2 L594.2 44.4"/>
<path d="M597.7 39.05 L603.1 39.05"/>
<path d="M597.7 37.35 L603.1 37.35"/>
<path d="M594.2 44.4 L596.5 48.4"/>
<path d="M632.5 29.7 q1 -1.7 2 0 t2 0 t2 0 t2 0" stroke-width="1.2"/>
<path d="M636.5 29.9 L640.2 37.2 L637.1 43.8"/>
<path d="M640.4 38.05 L645.8 38.05"/>
<path d="M640.4 36.35 L645.8 36.35"/>
<path d="M637.1 43.8 L640.5 49.8 L643.6 49.8"/>
<path d="M640.5 49.8 L637.1 55.8"/>
<path d="M675.3 30.3 q1 -1.7 2 0 t2 0 t2 0 t2 0" stroke-width="1.2"/>
<path d="M679.3 30.5 L682.9 38.1 L679.8 44.4"/>
<path d="M683.1 38.95 L688.5 38.95"/>
<path d="M683.1 37.25 L688.5 37.25"/>
<path d="M679.8 44.4 L674.4 44.4"/>
<path d="M679.8 44.4 L683.3 50.6 L681.5 54.6"/>
<path d="M714 30.1 q1 -1.7 2 0 t2 0 t2 0 t2 0" stroke-width="1.2"/>
<path d="M718 30.3 L721.9 37.8 L718.5 44.1"/>
<path d="M722.1 38.65 L727.5 38.65"/>
<path d="M722.1 36.95 L727.5 36.95"/>
<path d="M718.5 44.1 L713.1 44.1"/>
<path d="M718.5 44.1 L722.2 50.4 L718.5 56.4 L721.9 62.3 L719.7 67"/>
<path d="M722.1 63.15 L727.4 63.15"/>
<path d="M722.1 61.45 L727.4 61.45"/>
<path d="M751.5 30.3 q1 -1.7 2 0 t2 0 t2 0 t2 0" stroke-width="1.2"/>
<path d="M755.5 30.5 L759.2 38.1 L755.7 44.4"/>
<path d="M759.4 38.95 L764.8 38.95"/>
<path d="M759.4 37.25 L764.8 37.25"/>
<path d="M755.7 44.4 L750.3 44.4"/>
<path d="M755.7 44.4 L759.5 50.6 L756.1 56.7 L758.4 60.8"/>
<path d="M755.9 55.85 L750.6 55.85"/>
<path d="M755.9 57.55 L750.6 57.55"/>
<path d="M791.1 30.3 q1 -1.7 2 0 t2 0 t2 0 t2 0" stroke-width="1.2"/>
<path d="M795.1 30.5 L798.8 38.2 L795.5 44.5"/>
<path d="M799 39.05 L804.4 39.05"/>
<path d="M799 37.35 L804.4 37.35"/>
<path d="M795.5 44.5 L790.1 44.5"/>
<path d="M795.5 44.5 L799 50.6 L795.5 56.9 L799 62.9 L797.4 66.8"/>
<path d="M799.2 63.75 L804.4 63.75"/>
<path d="M799.2 62.05 L804.4 62.05"/>
<path d="M829.8 30.1 q1 -1.7 2 0 t2 0 t2 0 t2 0" stroke-width="1.2"/>
<path d="M833.8 30.3 L837.4 37.8 L834.2 44.1"/>
<path d="M837.6 38.65 L843 38.65"/>
<path d="M837.6 36.95 L843 36.95"/>
<path d="M834.2 44.1 L828.8 44.1"/>
<path d="M834.2 44.1 L837.7 50.4 L834.2 56.7 L836 60.2"/>
<path d="M834 55.85 L828.9 55.85"/>
<path d="M834 57.55 L828.9 57.55"/>
</g>
<text x="141" y="39.05" font-size="6.2" text-anchor="middle">O</text>
<text x="124.3" y="44.95" font-size="6.2" text-anchor="end">H<tspan font-size="4.2" dy="1.3">2</tspan><tspan dy="-1.3" font-size="0.1"> </tspan>N</text>
<text x="131.5" y="69.45" font-size="6.2" text-anchor="end">HN</text>
<text x="139.9" y="75.55" font-size="6.2" text-anchor="start">NH</text>
<text x="131.6" y="81.45" font-size="6.2" text-anchor="end">H<tspan font-size="4.2" dy="1.3">2</tspan><tspan dy="-1.3" font-size="0.1"> </tspan>N</text>
<text x="181.1" y="40.05" font-size="6.2" text-anchor="middle">O</text>
<text x="164" y="46.25" font-size="6.2" text-anchor="end">H<tspan font-size="4.2" dy="1.3">2</tspan><tspan dy="-1.3" font-size="0.1"> </tspan>N</text>
<text x="171.5" y="77.45" font-size="6.2" text-anchor="start">NH<tspan font-size="4.2" dy="1.3">2</tspan><tspan dy="-1.3" font-size="0.1"> </tspan></text>
<text x="219.6" y="40.05" font-size="6.2" text-anchor="middle">O</text>
<text x="202.5" y="46.25" font-size="6.2" text-anchor="end">H<tspan font-size="4.2" dy="1.3">2</tspan><tspan dy="-1.3" font-size="0.1"> </tspan>N</text>
<text x="202.9" y="63.75" font-size="6.2" text-anchor="middle">N</text>
<text x="211.8" y="69.05" font-size="6.2" text-anchor="start">NH</text>
<text x="261.5" y="39.65" font-size="6.2" text-anchor="middle">O</text>
<text x="244" y="45.85" font-size="6.2" text-anchor="end">H<tspan font-size="4.2" dy="1.3">2</tspan><tspan dy="-1.3" font-size="0.1"> </tspan>N</text>
<text x="251.6" y="79.15" font-size="6.2" text-anchor="middle">OH</text>
<text x="299" y="39.85" font-size="6.2" text-anchor="middle">O</text>
<text x="281.9" y="46.05" font-size="6.2" text-anchor="end">H<tspan font-size="4.2" dy="1.3">2</tspan><tspan dy="-1.3" font-size="0.1"> </tspan>N</text>
<text x="338.3" y="39.25" font-size="6.2" text-anchor="middle">O</text>
<text x="321.1" y="45.65" font-size="6.2" text-anchor="end">H<tspan font-size="4.2" dy="1.3">2</tspan><tspan dy="-1.3" font-size="0.1"> </tspan>N</text>
<text x="330.8" y="62.35" font-size="6.2" text-anchor="start">NH</text>
<text x="374.1" y="40.05" font-size="6.2" text-anchor="middle">O</text>
<text x="360.8" y="46.45" font-size="6.2" text-anchor="end">NH<tspan font-size="4.2" dy="1.3">2</tspan><tspan dy="-1.3" font-size="0.1"> </tspan></text>
<text x="416.3" y="39.65" font-size="6.2" text-anchor="middle">O</text>
<text x="399.2" y="45.85" font-size="6.2" text-anchor="end">H<tspan font-size="4.2" dy="1.3">2</tspan><tspan dy="-1.3" font-size="0.1"> </tspan>N</text>
<text x="456.5" y="40.55" font-size="6.2" text-anchor="middle">O</text>
<text x="439.2" y="46.55" font-size="6.2" text-anchor="end">H<tspan font-size="4.2" dy="1.3">2</tspan><tspan dy="-1.3" font-size="0.1"> </tspan>N</text>
<text x="498.2" y="40.05" font-size="6.2" text-anchor="middle">O</text>
<text x="480.7" y="45.95" font-size="6.2" text-anchor="end">H<tspan font-size="4.2" dy="1.3">2</tspan><tspan dy="-1.3" font-size="0.1"> </tspan>N</text>
<text x="530.8" y="40.05" font-size="6.2" text-anchor="middle">O</text>
<text x="515.6" y="51.65" font-size="6.2" text-anchor="end">HN</text>
<text x="573.3" y="39.65" font-size="6.2" text-anchor="middle">O</text>
<text x="556.3" y="45.85" font-size="6.2" text-anchor="end">H<tspan font-size="4.2" dy="1.3">2</tspan><tspan dy="-1.3" font-size="0.1"> </tspan>N</text>
<text x="565.7" y="64.15" font-size="6.2" text-anchor="middle">S</text>
<text x="605.5" y="40.65" font-size="6.2" text-anchor="middle">O</text>
<text x="596" y="53.15" font-size="6.2" text-anchor="start">NH<tspan font-size="4.2" dy="1.3">2</tspan><tspan dy="-1.3" font-size="0.1"> </tspan></text>
<text x="648.2" y="39.65" font-size="6.2" text-anchor="middle">O</text>
<text x="634.9" y="46.15" font-size="6.2" text-anchor="end">NH<tspan font-size="4.2" dy="1.3">2</tspan><tspan dy="-1.3" font-size="0.1"> </tspan></text>
<text x="643.9" y="52.15" font-size="6.2" text-anchor="start">OH</text>
<text x="690.9" y="40.55" font-size="6.2" text-anchor="middle">O</text>
<text x="673.9" y="46.55" font-size="6.2" text-anchor="end">H<tspan font-size="4.2" dy="1.3">2</tspan><tspan dy="-1.3" font-size="0.1"> </tspan>N</text>
<text x="682.2" y="59.05" font-size="6.2" text-anchor="end">HO</text>
<text x="729.9" y="40.25" font-size="6.2" text-anchor="middle">O</text>
<text x="712.6" y="46.25" font-size="6.2" text-anchor="end">H<tspan font-size="4.2" dy="1.3">2</tspan><tspan dy="-1.3" font-size="0.1"> </tspan>N</text>
<text x="729.8" y="64.85" font-size="6.2" text-anchor="middle">O</text>
<text x="719.9" y="73.65" font-size="6.2" text-anchor="end">H<tspan font-size="4.2" dy="1.3">2</tspan><tspan dy="-1.3" font-size="0.1"> </tspan>N</text>
<text x="767.2" y="40.55" font-size="6.2" text-anchor="middle">O</text>
<text x="749.8" y="46.55" font-size="6.2" text-anchor="end">H<tspan font-size="4.2" dy="1.3">2</tspan><tspan dy="-1.3" font-size="0.1"> </tspan>N</text>
<text x="748.2" y="58.95" font-size="6.2" text-anchor="middle">O</text>
<text x="757.9" y="65.45" font-size="6.2" text-anchor="start">NH<tspan font-size="4.2" dy="1.3">2</tspan><tspan dy="-1.3" font-size="0.1"> </tspan></text>
<text x="806.8" y="40.65" font-size="6.2" text-anchor="middle">O</text>
<text x="789.6" y="46.65" font-size="6.2" text-anchor="end">H<tspan font-size="4.2" dy="1.3">2</tspan><tspan dy="-1.3" font-size="0.1"> </tspan>N</text>
<text x="806.8" y="65.35" font-size="6.2" text-anchor="middle">O</text>
<text x="798" y="71.65" font-size="6.2" text-anchor="end">HO</text>
<text x="845.4" y="40.25" font-size="6.2" text-anchor="middle">O</text>
<text x="828.3" y="46.25" font-size="6.2" text-anchor="end">H<tspan font-size="4.2" dy="1.3">2</tspan><tspan dy="-1.3" font-size="0.1"> </tspan>N</text>
<text x="826.5" y="58.95" font-size="6.2" text-anchor="middle">O</text>
<text x="835.3" y="64.85" font-size="6.2" text-anchor="start">OH</text>
<g stroke="#1a1a1a" stroke-width="1.1">
<line x1="193" y1="485.4" x2="193" y2="476" stroke-width="1.1"/>
<line x1="189.8" y1="476" x2="196.2" y2="476" stroke-width="1.1"/>
<rect x="185.1" y="485.4" width="15.8" height="100.1" fill="#C8C8C8" stroke-width="1.25"/>
<line x1="220.5" y1="377.8" x2="220.5" y2="369.5" stroke-width="1.1"/>
<line x1="217.3" y1="369.5" x2="223.7" y2="369.5" stroke-width="1.1"/>
<rect x="212" y="377.8" width="16.4" height="207.7" fill="#00FFFF" stroke-width="1.25"/>
<line x1="246.6" y1="541.5" x2="246.6" y2="535.3" stroke-width="1.1"/>
<line x1="243.4" y1="535.3" x2="249.8" y2="535.3" stroke-width="1.1"/>
<rect x="238.7" y="541.5" width="15.8" height="44" fill="#C8C8C8" stroke-width="1.25"/>
<line x1="273.4" y1="485" x2="273.4" y2="478.3" stroke-width="1.1"/>
<line x1="270.2" y1="478.3" x2="276.6" y2="478.3" stroke-width="1.1"/>
<rect x="265.5" y="485" width="15.8" height="100.5" fill="#00FFFF" stroke-width="1.25"/>
<line x1="300.2" y1="539.5" x2="300.2" y2="537.5" stroke-width="1.1"/>
<line x1="297" y1="537.5" x2="303.4" y2="537.5" stroke-width="1.1"/>
<rect x="292.3" y="539.5" width="15.8" height="46" fill="#C8C8C8" stroke-width="1.25"/>
<line x1="327" y1="565" x2="327" y2="563.5" stroke-width="1.1"/>
<line x1="323.8" y1="563.5" x2="330.2" y2="563.5" stroke-width="1.1"/>
<rect x="319.1" y="565" width="15.8" height="20.5" fill="#00FFFF" stroke-width="1.25"/>
<line x1="353.8" y1="497.5" x2="353.8" y2="487.3" stroke-width="1.1"/>
<line x1="350.6" y1="487.3" x2="357" y2="487.3" stroke-width="1.1"/>
<rect x="345.9" y="497.5" width="15.8" height="88" fill="#FF80FF" stroke-width="1.25"/>
<line x1="380.6" y1="498.5" x2="380.6" y2="496.5" stroke-width="1.1"/>
<line x1="377.4" y1="496.5" x2="383.8" y2="496.5" stroke-width="1.1"/>
<rect x="372.7" y="498.5" width="15.8" height="87" fill="#FF80FF" stroke-width="1.25"/>
<line x1="407.4" y1="542.3" x2="407.4" y2="540.5" stroke-width="1.1"/>
<line x1="404.2" y1="540.5" x2="410.6" y2="540.5" stroke-width="1.1"/>
<rect x="399.5" y="542.3" width="15.8" height="43.2" fill="#FF80FF" stroke-width="1.25"/>
<line x1="434.2" y1="551.8" x2="434.2" y2="550.5" stroke-width="1.1"/>
<line x1="431" y1="550.5" x2="437.4" y2="550.5" stroke-width="1.1"/>
<rect x="426.3" y="551.8" width="15.8" height="33.7" fill="#FF80FF" stroke-width="1.25"/>
<line x1="461" y1="555.8" x2="461" y2="554.8" stroke-width="1.1"/>
<line x1="457.8" y1="554.8" x2="464.2" y2="554.8" stroke-width="1.1"/>
<rect x="453.1" y="555.8" width="15.8" height="29.7" fill="#FF80FF" stroke-width="1.25"/>
<line x1="487.8" y1="557.3" x2="487.8" y2="556.3" stroke-width="1.1"/>
<line x1="484.6" y1="556.3" x2="491" y2="556.3" stroke-width="1.1"/>
<rect x="479.9" y="557.3" width="15.8" height="28.2" fill="#FF80FF" stroke-width="1.25"/>
<line x1="514.6" y1="556.8" x2="514.6" y2="556" stroke-width="1.1"/>
<line x1="511.4" y1="556" x2="517.8" y2="556" stroke-width="1.1"/>
<rect x="506.7" y="556.8" width="15.8" height="28.7" fill="#FF80FF" stroke-width="1.25"/>
<line x1="541.4" y1="561.3" x2="541.4" y2="560.5" stroke-width="1.1"/>
<line x1="538.2" y1="560.5" x2="544.6" y2="560.5" stroke-width="1.1"/>
<rect x="533.5" y="561.3" width="15.8" height="24.2" fill="#FF80FF" stroke-width="1.25"/>
<line x1="568.2" y1="565.8" x2="568.2" y2="564.5" stroke-width="1.1"/>
<line x1="565" y1="564.5" x2="571.4" y2="564.5" stroke-width="1.1"/>
<rect x="560.3" y="565.8" width="15.8" height="19.7" fill="#FF80FF" stroke-width="1.25"/>
<line x1="595" y1="539.8" x2="595" y2="533.8" stroke-width="1.1"/>
<line x1="591.8" y1="533.8" x2="598.2" y2="533.8" stroke-width="1.1"/>
<rect x="587.1" y="539.8" width="15.8" height="45.7" fill="#FFFF7C" stroke-width="1.25"/>
<line x1="621.8" y1="576" x2="621.8" y2="575" stroke-width="1.1"/>
<line x1="618.6" y1="575" x2="625" y2="575" stroke-width="1.1"/>
<rect x="613.9" y="576" width="15.8" height="9.5" fill="#FFFF7C" stroke-width="1.25"/>
<line x1="648.6" y1="574.8" x2="648.6" y2="574.3" stroke-width="1.1"/>
<line x1="645.4" y1="574.3" x2="651.8" y2="574.3" stroke-width="1.1"/>
<rect x="640.7" y="574.8" width="15.8" height="10.7" fill="#FFFF7C" stroke-width="1.25"/>
<line x1="675.4" y1="578" x2="675.4" y2="577" stroke-width="1.1"/>
<line x1="672.2" y1="577" x2="678.6" y2="577" stroke-width="1.1"/>
<rect x="667.5" y="578" width="15.8" height="7.5" fill="#FFFF7C" stroke-width="1.25"/>
<line x1="702.2" y1="579" x2="702.2" y2="577.5" stroke-width="1.1"/>
<line x1="699" y1="577.5" x2="705.4" y2="577.5" stroke-width="1.1"/>
<rect x="694.3" y="579" width="15.8" height="6.5" fill="#FFFF7C" stroke-width="1.25"/>
<rect x="721.1" y="581.5" width="15.8" height="4" fill="#858585" stroke-width="1.25"/>
<line x1="755.8" y1="577.8" x2="755.8" y2="577" stroke-width="1.1"/>
<line x1="752.6" y1="577" x2="759" y2="577" stroke-width="1.1"/>
<rect x="747.9" y="577.8" width="15.8" height="7.7" fill="#858585" stroke-width="1.25"/>
</g>
<g stroke="#000" stroke-width="2" fill="none" stroke-linecap="square">
<rect x="179.5" y="346.5" width="589.8" height="239"/>
</g>
<g stroke="#000">
<line x1="173.6" y1="586" x2="179.5" y2="586" stroke-width="1.6"/>
<line x1="176.8" y1="570.07" x2="179.5" y2="570.07" stroke-width="1.4"/>
<line x1="173.6" y1="554.14" x2="179.5" y2="554.14" stroke-width="1.6"/>
<line x1="176.8" y1="538.21" x2="179.5" y2="538.21" stroke-width="1.4"/>
<line x1="173.6" y1="522.28" x2="179.5" y2="522.28" stroke-width="1.6"/>
<line x1="176.8" y1="506.35" x2="179.5" y2="506.35" stroke-width="1.4"/>
<line x1="173.6" y1="490.42" x2="179.5" y2="490.42" stroke-width="1.6"/>
<line x1="176.8" y1="474.49" x2="179.5" y2="474.49" stroke-width="1.4"/>
<line x1="173.6" y1="458.56" x2="179.5" y2="458.56" stroke-width="1.6"/>
<line x1="176.8" y1="442.63" x2="179.5" y2="442.63" stroke-width="1.4"/>
<line x1="173.6" y1="426.7" x2="179.5" y2="426.7" stroke-width="1.6"/>
<line x1="176.8" y1="410.77" x2="179.5" y2="410.77" stroke-width="1.4"/>
<line x1="173.6" y1="394.84" x2="179.5" y2="394.84" stroke-width="1.6"/>
<line x1="176.8" y1="378.91" x2="179.5" y2="378.91" stroke-width="1.4"/>
<line x1="173.6" y1="362.98" x2="179.5" y2="362.98" stroke-width="1.6"/>
</g>
<text x="171.6" y="590.1" font-size="13.4" text-anchor="end">0</text>
<text x="171.6" y="558.24" font-size="13.4" text-anchor="end">100</text>
<text x="171.6" y="526.38" font-size="13.4" text-anchor="end">200</text>
<text x="171.6" y="494.52" font-size="13.4" text-anchor="end">300</text>
<text x="171.6" y="462.66" font-size="13.4" text-anchor="end">400</text>
<text x="171.6" y="430.8" font-size="13.4" text-anchor="end">500</text>
<text x="171.6" y="398.94" font-size="13.4" text-anchor="end">600</text>
<text x="171.6" y="367.08" font-size="13.4" text-anchor="end">700</text>
<text transform="translate(138.4 462.3) rotate(-90) scale(0.986 1)" font-size="12.4" text-anchor="middle">Relative Mean Fluorescence Intensity</text>
<text transform="translate(11.0 364.8) scale(1.09 1)" font-size="18.5">(b)</text>
<line x1="190.8" y1="365.4" x2="222.5" y2="365.4" stroke="#000" stroke-width="1.5"/>
<text x="207.45" y="366.45" font-size="15" text-anchor="middle">**</text>
<line x1="244.5" y1="476.4" x2="276.3" y2="476.4" stroke="#000" stroke-width="1.5"/>
<text x="261.2" y="478.45" font-size="15" text-anchor="middle">**</text>
<line x1="300" y1="535.2" x2="331.5" y2="535.2" stroke="#000" stroke-width="1.5"/>
<text x="316.55" y="536.75" font-size="15" text-anchor="middle">**</text>
<text transform="translate(205.8 590.6) rotate(-42)" font-size="10.6" text-anchor="end" class="xl">G5-Arg<tspan font-size="8.2" dy="2">64</tspan></text>
<text transform="translate(233.3 590.6) rotate(-42)" font-size="10.6" text-anchor="end" class="xl">G5-Arg<tspan font-size="8.2" dy="2">110</tspan></text>
<text transform="translate(259.4 590.6) rotate(-42)" font-size="10.6" text-anchor="end" class="xl">G5-Lys<tspan font-size="8.2" dy="2">67</tspan></text>
<text transform="translate(286.2 590.6) rotate(-42)" font-size="10.6" text-anchor="end" class="xl">G5-Lys<tspan font-size="8.2" dy="2">130</tspan></text>
<text transform="translate(313 590.6) rotate(-42)" font-size="10.6" text-anchor="end" class="xl">G5-His<tspan font-size="8.2" dy="2">65</tspan></text>
<text transform="translate(339.8 590.6) rotate(-42)" font-size="10.6" text-anchor="end" class="xl">G5-His<tspan font-size="8.2" dy="2">113</tspan></text>
<text transform="translate(366.6 590.6) rotate(-42)" font-size="10.6" text-anchor="end" class="xl">G5-Tyr<tspan font-size="8.2" dy="2">68</tspan></text>
<text transform="translate(393.4 590.6) rotate(-42)" font-size="10.6" text-anchor="end" class="xl">G5-Phe<tspan font-size="8.2" dy="2">71</tspan></text>
<text transform="translate(420.2 590.6) rotate(-42)" font-size="10.6" text-anchor="end" class="xl">G5-Trp<tspan font-size="8.2" dy="2">55</tspan></text>
<text transform="translate(447 590.6) rotate(-42)" font-size="10.6" text-anchor="end" class="xl">G5-Ile<tspan font-size="8.2" dy="2">118</tspan></text>
<text transform="translate(473.8 590.6) rotate(-42)" font-size="10.6" text-anchor="end" class="xl">G5-Leu<tspan font-size="8.2" dy="2">128</tspan></text>
<text transform="translate(500.6 590.6) rotate(-42)" font-size="10.6" text-anchor="end" class="xl">G5-Val<tspan font-size="8.2" dy="2">113</tspan></text>
<text transform="translate(527.4 590.6) rotate(-42)" font-size="10.6" text-anchor="end" class="xl">G5-Ala<tspan font-size="8.2" dy="2">73</tspan></text>
<text transform="translate(554.2 590.6) rotate(-42)" font-size="10.6" text-anchor="end" class="xl">G5-Pro<tspan font-size="8.2" dy="2">98</tspan></text>
<text transform="translate(581 590.6) rotate(-42)" font-size="10.6" text-anchor="end" class="xl">G5-Met<tspan font-size="8.2" dy="2">111</tspan></text>
<text transform="translate(607.8 590.6) rotate(-42)" font-size="10.6" text-anchor="end" class="xl">G5-Gly<tspan font-size="8.2" dy="2">108</tspan></text>
<text transform="translate(634.6 590.6) rotate(-42)" font-size="10.6" text-anchor="end" class="xl">G5-Thr<tspan font-size="8.2" dy="2">126</tspan></text>
<text transform="translate(661.4 590.6) rotate(-42)" font-size="10.6" text-anchor="end" class="xl">G5-Ser<tspan font-size="8.2" dy="2">113</tspan></text>
<text transform="translate(688.2 590.6) rotate(-42)" font-size="10.6" text-anchor="end" class="xl">G5-Gln<tspan font-size="8.2" dy="2">71</tspan></text>
<text transform="translate(715 590.6) rotate(-42)" font-size="10.6" text-anchor="end" class="xl">G5-Asn<tspan font-size="8.2" dy="2">75</tspan></text>
<text transform="translate(741.8 590.6) rotate(-42)" font-size="10.6" text-anchor="end" class="xl">G5-Glu<tspan font-size="8.2" dy="2">81</tspan></text>
<text transform="translate(768.6 590.6) rotate(-42)" font-size="10.6" text-anchor="end" class="xl">G5-Asp<tspan font-size="8.2" dy="2">98</tspan></text>
</g>
</svg>
</body>
</html>
